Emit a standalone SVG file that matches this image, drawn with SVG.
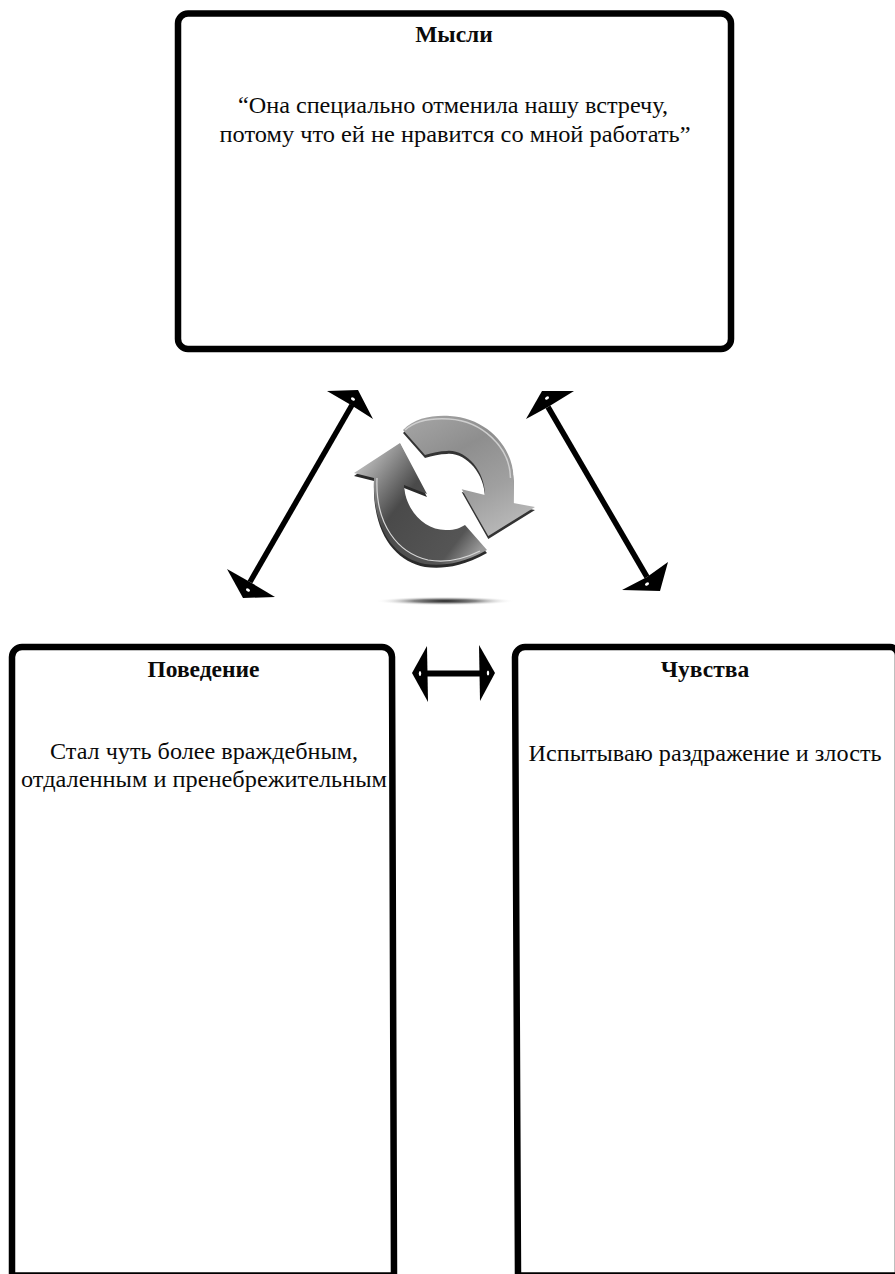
<svg xmlns="http://www.w3.org/2000/svg" width="895" height="1274" viewBox="0 0 895 1274">
<style>
.box{fill:#fff;stroke:#000;stroke-width:6.5;stroke-linejoin:round}
.t{font-family:"Liberation Serif",serif;font-weight:700;font-size:23.5px;text-anchor:middle;fill:#0a0a0a}
.b{font-family:"Liberation Serif",serif;font-size:24px;text-anchor:middle;fill:#0a0a0a}
.ln{stroke:#000;fill:none}
.hd{fill:#000}
.dot{fill:#fff}
</style>
<defs>
<linearGradient id="lg" x1="0.1" y1="0" x2="0.7" y2="1"><stop offset="0" stop-color="#a4a4a4"/><stop offset="0.35" stop-color="#8e8e8e"/><stop offset="0.7" stop-color="#a0a0a0"/><stop offset="1" stop-color="#b8b8b8"/></linearGradient>
<linearGradient id="dg" x1="0" y1="0.1" x2="1" y2="0.8"><stop offset="0" stop-color="#d0d0d0"/><stop offset="0.22" stop-color="#8a8a8a"/><stop offset="0.42" stop-color="#4a4a4a"/><stop offset="0.85" stop-color="#555"/><stop offset="1" stop-color="#999"/></linearGradient>
<radialGradient id="sh"><stop offset="0" stop-color="#222"/><stop offset="0.45" stop-color="#888"/><stop offset="1" stop-color="#fff" stop-opacity="0"/></radialGradient>
</defs>
<rect width="895" height="1274" fill="#fff"/>
<g id="node-thoughts">
<rect class="box" x="178" y="13.5" width="553" height="335.5" rx="10"/>
<text class="t" x="454" y="42">Мысли</text>
<text class="b" x="453" y="113" textLength="430" lengthAdjust="spacingAndGlyphs">“Она специально отменила нашу встречу,</text>
<text class="b" x="455" y="142" textLength="471" lengthAdjust="spacingAndGlyphs">потому что ей не нравится со мной работать”</text>
</g>
<g id="node-behaviour">
<path class="box" d="M12,1275.5V657a10,10 0 0 1 10,-10H382a10,10 0 0 1 10,10L394,1275.5Z"/>
<text class="t" x="203.5" y="677">Поведение</text>
<text class="b" x="204" y="759" textLength="308" lengthAdjust="spacingAndGlyphs">Стал чуть более враждебным,</text>
<text class="b" x="204" y="787" textLength="366" lengthAdjust="spacingAndGlyphs">отдаленным и пренебрежительным</text>
</g>
<g id="node-feelings">
<path class="box" d="M518,1275.5L515,657a10,10 0 0 1 10,-10H890a8,8 0 0 1 8,8V1275.5Z"/>
<text class="t" x="705" y="677">Чувства</text>
<text class="b" x="705" y="761" textLength="353" lengthAdjust="spacingAndGlyphs">Испытываю раздражение и злость</text>
</g>
<g id="icon">
<ellipse cx="445" cy="601" rx="70" ry="4.5" fill="url(#sh)"/>
<path d="M403,433 C415,421 432,418 450,419 C485,421 513,448 513.5,481 L513.3,506 L535,510 L488.3,539 L461.7,492 L485,498 C485,473 465,452 447,454 C440,454 432,456 425,458 Z" fill="#333"/>
<path d="M403,430 C415,418 432,415 450,416 C485,418 513,445 513.5,478 L513.3,503 L535,507 L488.3,536 L461.7,489.3 L485,495 C485,470 465,449 447,451 C440,451 432,453 425,455 Z" fill="url(#lg)"/>
<path d="M405,430 C416,420 432,418 449,419 C482,421 510,447 510.5,478" fill="none" stroke="#cfcfcf" stroke-width="1.5"/>
<path d="M400,444 L427,497 L404,488 C405,513 425,534 447,533 C455,533 460,531 465,528 L487,553 C460,568 440,569 425,567 C395,561 372,533 374,481 L354,476 Z" fill="#2a2a2a"/>
<path d="M400,443 L427,494 L404,485 C405,510 425,531 447,530 C455,530 460,528 465,525 L487,550 C460,565 440,566 425,564 C395,558 372,530 374,478 L354,473 Z" fill="url(#dg)"/>
<path d="M377,478 C375,525 398,553 428,560 C445,563 462,560 480,551" fill="none" stroke="#d8d8d8" stroke-width="1.2"/>
</g>
<g id="connectors">
<path class="ln" stroke-width="5.5" d="M250,582L352,405"/>
<path class="hd" d="M327,391L358,390L373,419L351,405Z"/>
<path class="hd" d="M227,569L250,582L275,597L243,598Z"/>
<ellipse class="dot" cx="353" cy="399" rx="2.2" ry="1.4" transform="rotate(30 353 399)"/>
<ellipse class="dot" cx="248" cy="590" rx="2.2" ry="1.4" transform="rotate(30 248 590)"/>
<path class="ln" stroke-width="5.5" d="M548,407L647,577"/>
<path class="hd" d="M542,391L574,391L548,407L526,419Z"/>
<path class="hd" d="M668,562L660,591L622,590L647,577Z"/>
<ellipse class="dot" cx="547" cy="398" rx="2.2" ry="1.4" transform="rotate(-30 547 398)"/>
<ellipse class="dot" cx="647" cy="584" rx="2.2" ry="1.4" transform="rotate(-30 647 584)"/>
<path class="ln" stroke-width="6" d="M425,673.5H482"/>
<path class="hd" d="M412,673L427,646L428,702Z"/>
<path class="hd" d="M495,673L479,645L480,701Z"/>
<ellipse class="dot" cx="420" cy="673.5" rx="1.2" ry="2.6"/>
<ellipse class="dot" cx="488" cy="673" rx="1.2" ry="2.6"/>
</g>
</svg>
